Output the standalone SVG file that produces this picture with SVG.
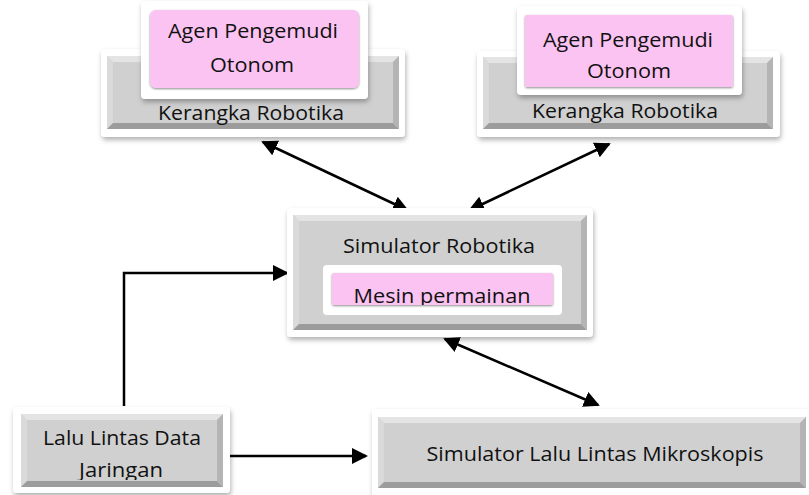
<svg xmlns="http://www.w3.org/2000/svg" width="809" height="495" viewBox="0 0 809 495">
  <style>
    .frame { fill: #ffffff; filter: url(#sh); }
    .face { fill: #d0d0d0; }
    .bt { fill: #e4e4e4; }
    .bl { fill: #dadada; }
    .bb { fill: #9c9c9c; }
    .br { fill: #b4b4b4; }
    .pink { fill: #fbc3f2; filter: url(#psh); }
    .t { font-family: "Open Sans", "Liberation Sans", sans-serif; font-size: 19.5px; fill: #111; text-anchor: middle; }
    .c { stroke: #000; stroke-width: 2.5; fill: none; }
  </style>
  <defs>
    <filter id="sh" x="-10%" y="-20%" width="120%" height="150%">
      <feDropShadow dx="1" dy="3" stdDeviation="2.5" flood-color="#000" flood-opacity="0.3"/>
    </filter>
    <filter id="psh" x="-5%" y="-10%" width="110%" height="130%">
      <feDropShadow dx="0" dy="1" stdDeviation="0.8" flood-color="#000" flood-opacity="0.45"/>
    </filter>
    <marker id="ah" markerUnits="userSpaceOnUse" markerWidth="18" markerHeight="18" viewBox="0 0 18 16" refX="14" refY="8" orient="auto-start-reverse">
      <path d="M0,0 L16,8 L0,16 z" fill="#000"/>
    </marker>
    <clipPath id="cpMesin"><rect x="332" y="273" width="221" height="32"/></clipPath>
    <clipPath id="cpLalu"><rect x="21" y="414" width="202" height="66"/></clipPath>
  </defs>

  <g id="connectors">
    <line class="c" x1="263" y1="142" x2="407" y2="210" marker-start="url(#ah)" marker-end="url(#ah)"/>
    <line class="c" x1="609" y1="144" x2="470" y2="210" marker-start="url(#ah)" marker-end="url(#ah)"/>
    <polyline class="c" points="124,406 124,273 287,273" marker-end="url(#ah)"/>
    <line class="c" x1="230" y1="456" x2="366" y2="456" marker-end="url(#ah)"/>
    <line class="c" x1="445" y1="339" x2="598" y2="405" marker-start="url(#ah)" marker-end="url(#ah)"/>
  </g>

  <g id="kerangka-kiri">
    <rect class="frame" x="101" y="49" width="304" height="88" rx="4"/>
    <rect class="face" x="107" y="56" width="292" height="73"/>
    <polygon class="bt" points="107,56 399,56 393,62 113,62"/>
    <polygon class="bl" points="107,56 113,62 113,123 107,129"/>
    <polygon class="bb" points="107,129 113,123 393,123 399,129"/>
    <polygon class="br" points="399,56 399,129 393,123 393,62"/>
    <text class="t" x="251" y="120" textLength="186" lengthAdjust="spacingAndGlyphs">Kerangka Robotika</text>
    <g id="agen-kiri">
      <rect class="frame" x="141" y="1" width="227" height="98" rx="4"/>
      <rect class="pink" x="150" y="10" width="209" height="78" rx="6"/>
      <text class="t" x="253" y="38" textLength="170" lengthAdjust="spacingAndGlyphs">Agen Pengemudi</text>
      <text class="t" x="252" y="72" textLength="84" lengthAdjust="spacingAndGlyphs">Otonom</text>
    </g>
  </g>

  <g id="kerangka-kanan">
    <rect class="frame" x="477" y="51" width="303" height="86" rx="4"/>
    <rect class="face" x="483" y="57" width="290" height="72"/>
    <polygon class="bt" points="483,57 773,57 767,63 489,63"/>
    <polygon class="bl" points="483,57 489,63 489,123 483,129"/>
    <polygon class="bb" points="483,129 489,123 767,123 773,129"/>
    <polygon class="br" points="773,57 773,129 767,123 767,63"/>
    <text class="t" x="625" y="118" textLength="186" lengthAdjust="spacingAndGlyphs">Kerangka Robotika</text>
    <g id="agen-kanan">
      <rect class="frame" x="517" y="6" width="225" height="89" rx="4"/>
      <rect class="pink" x="525" y="15" width="208" height="72" rx="2"/>
      <text class="t" x="628" y="47" textLength="170" lengthAdjust="spacingAndGlyphs">Agen Pengemudi</text>
      <text class="t" x="629" y="78" textLength="84" lengthAdjust="spacingAndGlyphs">Otonom</text>
    </g>
  </g>

  <g id="simulator-robotika">
    <rect class="frame" x="287" y="208" width="306" height="129" rx="4"/>
    <rect class="face" x="293" y="215" width="294" height="115"/>
    <polygon class="bt" points="293,215 587,215 581,221 299,221"/>
    <polygon class="bl" points="293,215 299,221 299,324 293,330"/>
    <polygon class="bb" points="293,330 299,324 581,324 587,330"/>
    <polygon class="br" points="587,215 587,330 581,324 581,221"/>
    <text class="t" x="439" y="253" textLength="192" lengthAdjust="spacingAndGlyphs">Simulator Robotika</text>
    <g id="mesin-permainan">
      <rect x="323" y="265" width="239" height="50" rx="4" fill="#fff"/>
      <rect class="pink" x="332" y="273" width="221" height="32" rx="2"/>
      <text class="t" x="442" y="303" textLength="177" lengthAdjust="spacingAndGlyphs" clip-path="url(#cpMesin)">Mesin permainan</text>
    </g>
  </g>

  <g id="lalu-lintas-data">
    <rect class="frame" x="13" y="407" width="217" height="86" rx="4"/>
    <rect class="face" x="21" y="414" width="202" height="73"/>
    <polygon class="bt" points="21,414 223,414 217,420 27,420"/>
    <polygon class="bl" points="21,414 27,420 27,481 21,487"/>
    <polygon class="bb" points="21,487 27,481 217,481 223,487"/>
    <polygon class="br" points="223,414 223,487 217,481 217,420"/>
    <text class="t" x="122" y="445" textLength="158" lengthAdjust="spacingAndGlyphs">Lalu Lintas Data</text>
    <text class="t" x="121" y="477" textLength="84" lengthAdjust="spacingAndGlyphs" clip-path="url(#cpLalu)">Jaringan</text>
  </g>

  <g id="simulator-lalu-lintas">
    <rect class="frame" x="372" y="409" width="445" height="92" rx="4"/>
    <rect class="face" x="378" y="417" width="428" height="71"/>
    <polygon class="bt" points="378,417 806,417 800,423 384,423"/>
    <polygon class="bl" points="378,417 384,423 384,482 378,488"/>
    <polygon class="bb" points="378,488 384,482 800,482 806,488"/>
    <polygon class="br" points="806,417 806,488 800,482 800,423"/>
    <text class="t" x="595" y="461" textLength="337" lengthAdjust="spacingAndGlyphs">Simulator Lalu Lintas Mikroskopis</text>
  </g>
</svg>
